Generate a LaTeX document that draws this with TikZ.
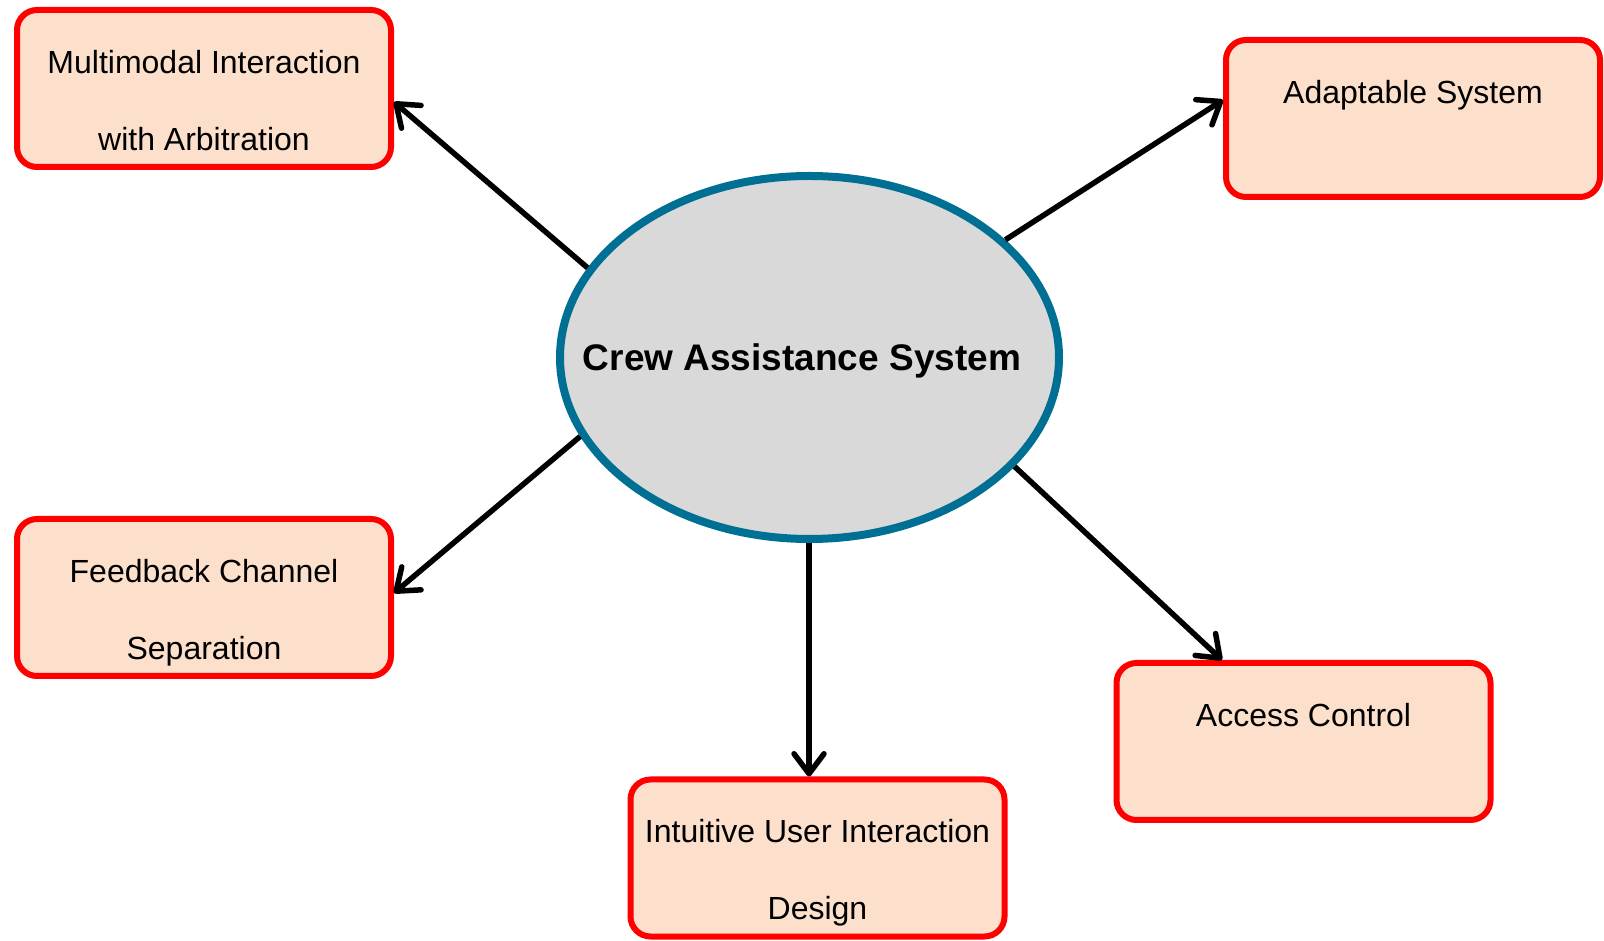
\documentclass[tikz,border=0pt]{standalone}
\usepackage{fontspec}
\setmainfont{Liberation Sans}
\usetikzlibrary{arrows.meta,shapes.geometric}
\definecolor{boxFill}{HTML}{FCE0CC}
\definecolor{boxRule}{HTML}{FF0000}
\definecolor{hubFill}{HTML}{D9D9D9}
\definecolor{hubRule}{HTML}{006F94}

\begin{document}
\begin{tikzpicture}[x=1pt,y=1pt,
    box/.style={draw=boxRule,line width=6pt,fill=boxFill,rounded corners=20pt,
      minimum width=374pt,minimum height=157pt,inner xsep=0pt,text width=372pt,
      align=flush center,font=\fontsize{32}{77}\selectfont,
      text height=46pt,text depth=76pt},
    hub/.style={ellipse,draw=hubRule,line width=8pt,fill=hubFill,
      minimum width=499pt,minimum height=363pt,inner sep=0pt},
    link/.style={line width=5.5pt,-{Straight Barb[length=20pt,width=30pt,round]}}]
  \useasboundingbox (0,0) rectangle (1604,940);

  % central system
  \node[hub] (cas) at (809.5,582.5) {};
  \node[font=\fontsize{37}{44}\selectfont\bfseries,text depth=0pt]
    (casTitle) at ([xshift=-7.5pt]cas.center) {Crew Assistance System};

  % surrounding features
  \node[box] (multi)  at (204,851.5)   {Multimodal Interaction\\with Arbitration};
  \node[box] (adapt)  at (1413,821.5)  {Adaptable System\\\mbox{}};
  \node[box] (feed)   at (204,342.5)   {Feedback Channel\\Separation};
  \node[box] (intuit) at (817.5,82)    {Intuitive User Interaction\\Design};
  \node[box] (access) at (1303.5,198.5){Access Control\\\mbox{}};

  \coordinate (intuitTop) at ([xshift=-8.5pt]intuit.north);

  % links
  \draw[link] (cas.158) -- ([yshift=-13.5pt]multi.east);
  \draw[link] (cas.31)  -- ([yshift=18.5pt]adapt.west);
  \draw[link] (cas.199) -- ([yshift=4.5pt]feed.east);
  \draw[link] (cas.south -| intuitTop) -- (intuitTop);
  \draw[link] (cas.332) -- ([xshift=-81.5pt]access.north);
\end{tikzpicture}
\end{document}
